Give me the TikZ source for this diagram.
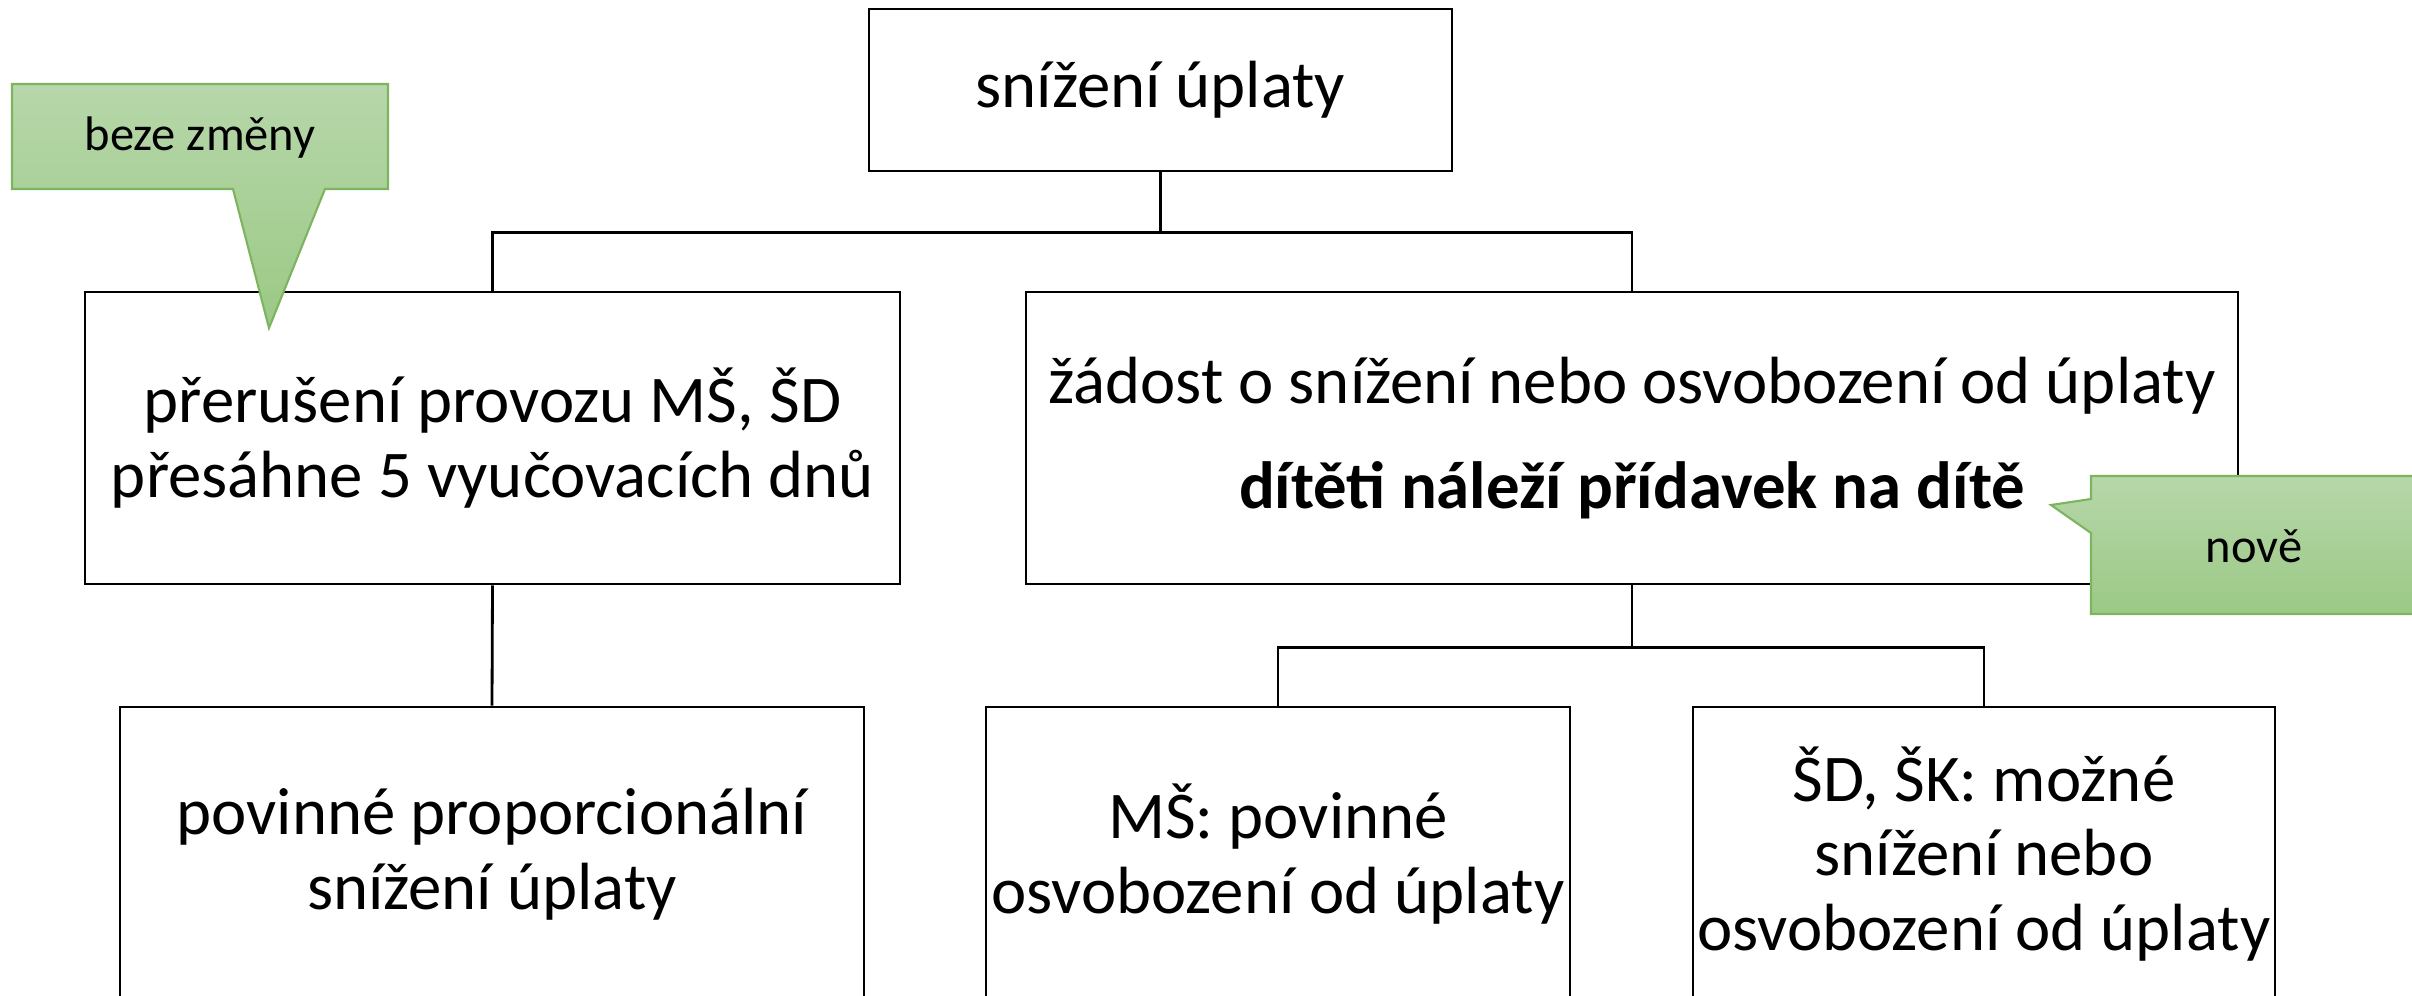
\documentclass[tikz,border=0pt]{standalone}
\usepackage{fontspec}
\setmainfont{Carlito}
\definecolor{calltop}{HTML}{B7D7AA}
\definecolor{callbot}{HTML}{9BC985}
\definecolor{callline}{HTML}{7DB45F}
\begin{document}
\begin{tikzpicture}[
  block/.style = {
    draw,
    line width=0.8pt,
    shape=rectangle,
    inner sep=0pt,
    minimum height=2.92cm,
    align=center,
    font=\fontsize{19}{21.2}\selectfont
  },
  callout/.style = {
    draw=callline,
    line width=0.6pt,
    top color=calltop,
    bottom color=callbot
  },
  calltext/.style = {
    font=\fontsize{13.8}{16}\selectfont
  },
  link/.style = {
    line width=0.8pt
  },
]
  \clip (0,0) rectangle (24.12,-9.96);

  \node (snizeni)[
    block,
    minimum width=5.83cm,
    minimum height=1.62cm
  ] at (11.605,-0.9) {snížení úplaty};
  \node (preruseni)[
    block,
    minimum width=8.15cm
  ] at (4.925,-4.38) {přerušení provozu MŠ, ŠD\\přesáhne 5 vyučovacích dnů};
  \node (zadost)[
    block,
    minimum width=12.12cm
  ] at (16.32,-4.38) {žádost o snížení nebo osvobození od úplaty\\[0.3cm]
    \textbf{dítěti náleží přídavek na dítě}};
  \node (proporc)[
    block,
    minimum width=7.44cm,
    minimum height=2.94cm
  ] at (4.92,-8.54) {povinné proporcionální\\snížení úplaty};
  \node (ms)[
    block,
    minimum width=5.84cm,
    minimum height=2.94cm
  ] at (12.78,-8.54) {MŠ: povinné\\osvobození od úplaty};
  \node (sd)[
    block,
    minimum width=5.82cm,
    minimum height=2.94cm
  ] at (19.84,-8.54) {ŠD, ŠK: možné\\snížení nebo\\osvobození od úplaty};

  \draw[link] (snizeni.south) -- +(0,-0.6) -| (preruseni.north);
  \draw[link] (snizeni.south) -- +(0,-0.6) -| (zadost.north);
  \draw[link] (preruseni.south) -- (proporc.north);
  \draw[link] (zadost.south) -- +(0,-0.62) -| (ms.north);
  \draw[link] (zadost.south) -- +(0,-0.62) -| (sd.north);

  % callouts
  \path[callout] (0.12,-0.84) -- (3.88,-0.84) -- (3.88,-1.89) -- (3.25,-1.89)
    -- (2.69,-3.28) -- (2.33,-1.89) -- (0.12,-1.89) -- cycle;
  \node (beze)[calltext] at (2.0,-1.38) {beze změny};
  \path[callout] (20.91,-4.76) -- (24.3,-4.76) -- (24.3,-6.14) -- (20.91,-6.14)
    -- (20.91,-5.33) -- (20.51,-5.05) -- (20.91,-4.99) -- cycle;
  \node (nove)[calltext] at (22.54,-5.46) {nově};
\end{tikzpicture}
\end{document}
